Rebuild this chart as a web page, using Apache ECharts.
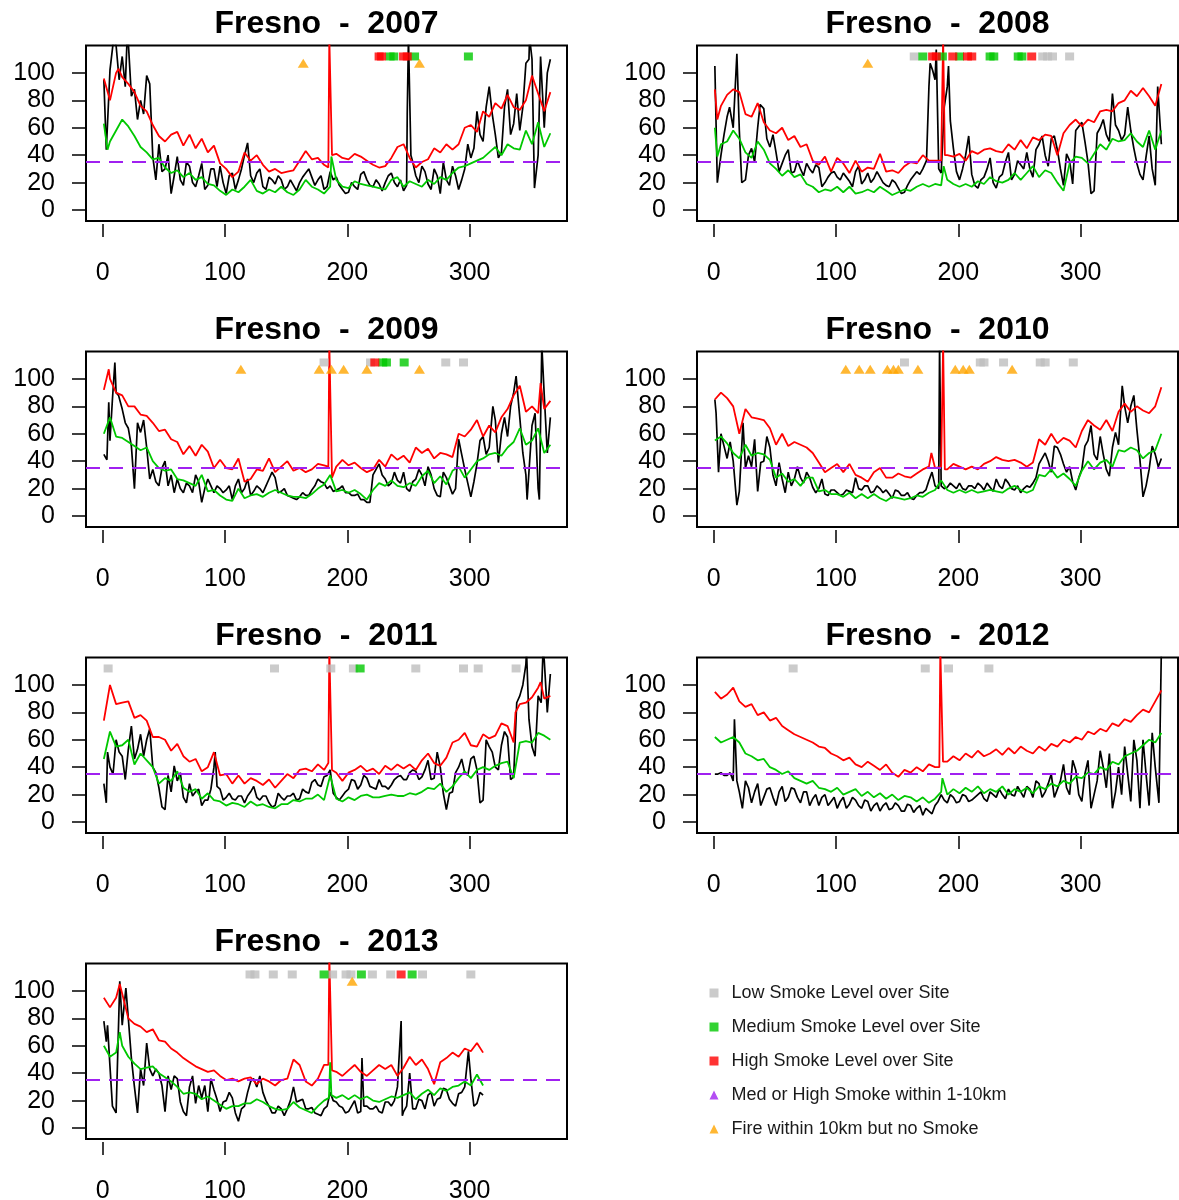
<!DOCTYPE html>
<html>
<head>
<meta charset="utf-8">
<script src="https://cdn.jsdelivr.net/npm/echarts@6/dist/echarts.min.js"></script>
<style>
  html, body { margin: 0; padding: 0; background: #fff; }
  #chart { width: 1179px; height: 1200px; }
</style>
</head>
<body>
<div id="chart"></div>
<script>
// day grid (every 5 days) and the in-between days used for the noisy black series
var days = [1,6,11,16,21,26,31,36,41,46,51,56,61,66,71,76,81,86,91,96,101,106,111,116,121,126,131,136,141,146,
  151,156,161,166,171,176,181,186,191,196,201,206,211,216,221,226,231,236,241,246,251,256,261,266,271,276,281,286,291,296,
  301,306,311,316,321,326,331,336,341,346,351,356,361,366];
var midDays = [3.5,8.5,13.5,18.5,23.5,28.5,33.5,38.5,43.5,48.5,53.5,58.5,63.5,68.5,73.5,78.5,83.5,88.5,93.5,98.5,
  103.5,108.5,113.5,118.5,123.5,128.5,133.5,138.5,143.5,148.5,153.5,158.5,163.5,168.5,173.5,178.5,183.5,188.5,193.5,198.5,
  203.5,208.5,213.5,218.5,223.5,228.5,233.5,238.5,243.5,248.5,253.5,258.5,263.5,268.5,273.5,278.5,283.5,288.5,293.5,298.5,
  303.5,308.5,313.5,318.5,323.5,328.5,333.5,338.5,343.5,348.5,353.5,358.5,363.5];
var xTicks = [0, 100, 200, 300];
var yTicks = [0, 20, 40, 60, 80, 100];
var threshold = 35;
var squareLevel = 112;
var triangleLevel = 107;

// ---- 2007 ----
var red2007 = [96,80,100,97,92,86,76,72,62,54, 50,55,57,47,55,45,52,42,47,34, 30,24,28,42,36,40,33,28,30,27,
  28,29,36,43,37,38,33,33,41,38, 37,41,39,36,33,31,32,38,46,48, 38,31,35,37,45,42,48,44,48,60,
  62,57,72,68,78,74,84,75,73,80, 98,85,72,86];
var black2007 = [95,102,120,112,122,88,80,98,39,48, 30,12,39,18,32,17,34,18,30,32, 12,27,22,40,25,27,17,24,19,22,
  17,18,20,27,24,22,15,28,24,15, 13,17,26,22,17,19,20,27,17,14, 60,25,32,19,30,12,22,32,15,30,
  38,72,50,90,55,42,88,63,58,107, 110,40,60,110];
var blackMid2007 = [null,null,95,90,83,66,70,92,22,28, 40,25,22,35,20,25,15,30,17,20, 25,15,30,49,20,30,15,22,25,15,
  22,14,24,30,18,25,17,22,18,12, 20,15,28,18,22,14,25,20,22,18, 35,20,28,15,25,35,18,25,22,48,
  45,55,75,70,38,75,55,85,75,110, null,null,100];
var green2007 = [63,50,58,66,61,54,46,42,37,38, 31,27,29,24,27,22,24,19,18,14, 11,15,13,17,22,14,12,15,13,17,
  13,11,15,22,17,15,12,17,22,17, 16,21,19,18,17,16,15,22,24,17, 21,19,17,22,19,24,22,27,31,32,
  34,36,38,42,46,40,48,45,44,58, 48,64,46,56];
var redExtra2007 = [[13,103],[184.5,31],[185.3,126],[186,126],[186.7,126],[187.5,40]];
var blackExtra2007 = [[3,44],[9,125],[20,125],[249,70],[250,126],[251,126],[252,40],[349,126],[353,16],[358,112]];
var greenExtra2007 = [[4,44],[187,39]];
var low2007 = [];
var med2007 = [235,238,255,299];
var high2007 = [226,228,246,249];
var fire2007 = [164,259];

// ---- 2008 ----
var red2008 = [88,76,84,88,86,70,68,78,64,58, 56,60,51,54,46,48,36,33,39,28, 38,34,27,36,28,31,30,41,28,29,
  27,32,35,34,40,36,36,36,40,39, 41,36,43,41,44,45,43,42,48,44, 51,45,53,51,55,54,40,56,62,66,
  61,66,64,72,73,72,78,80,87,83, 89,83,76,92];
var black2008 = [105,40,68,60,58,22,45,60,74,46, 42,34,44,28,30,34,27,31,20,27, 24,27,21,28,19,27,23,24,18,22,
  16,13,22,28,30,90,95,27,90,45, 22,40,26,16,24,38,16,26,42,26, 33,42,24,48,40,52,44,18,36,58,
  64,35,14,60,55,85,58,55,58,34, 22,54,18,48];
var blackMid2008 = [null,55,null,null,null,40,35,null,52,55, 28,40,27,36,25,30,33,17,24,28, 22,24,17,32,22,20,28,20,17,20,
  12,18,25,26,null,null,null,75,65,28, 30,54,18,22,30,20,24,35,22,36, 30,30,44,54,32,54,30,41,19,61,
  50,12,56,66,50,62,51,75,45,26, 39,30,null];
var green2008 = [60,48,50,58,52,42,38,50,44,34, 30,25,29,24,26,19,17,13,15,14, 17,13,17,12,13,15,13,17,14,11,
  13,15,14,17,19,17,19,18,22,19, 17,19,17,21,19,24,21,20,22,27, 22,27,32,24,29,27,20,14,34,39,
  38,34,41,48,44,52,50,51,56,50, 46,58,44,58];
var redExtra2008 = [[3,66],[187,36],[187.6,126],[188.4,126],[189,40]];
var blackExtra2008 = [[3,20],[13,75],[19,114],[23,20],[38,77],[174,36],[177,107],[179,102],[182,117],[184,30],[192,105],[363,90]];
var greenExtra2008 = [[3,39],[188,32]];
var low2008 = [164,269,273,277,291];
var med2008 = [171,187,201,226,229,249,252];
var high2008 = [179,182,195.5,207.5,211,260];
var fire2008 = [126];

// ---- 2009 ----
var red2009 = [92,100,90,88,80,80,74,73,68,62, 63,56,54,45,51,44,52,47,35,41, 35,34,42,25,27,34,33,42,32,36,
  40,33,35,32,34,38,37,30,36,41, 37,39,35,32,34,41,36,45,41,44, 39,50,46,49,42,46,45,43,60,58,
  63,70,58,66,61,72,78,88,95,76, 80,75,78,84];
var black2009 = [45,55,90,78,64,20,61,50,34,22, 40,30,27,17,22,30,10,27,17,20, 19,12,27,20,15,22,17,27,28,18,
  15,13,14,15,19,27,24,22,19,22, 17,15,12,10,30,38,27,24,26,32, 18,27,30,36,20,14,28,16,56,34,
  14,38,58,50,70,60,58,90,72,30, 66,20,88,72];
var blackMid2009 = [41,null,null,68,51,68,70,27,25,35, 22,17,20,24,17,25,20,22,22,17, 22,22,17,27,18,20,22,32,17,20,
  14,12,17,15,22,25,20,18,20,17, 15,16,12,10,34,30,22,32,24,20, 25,34,22,30,15,32,22,20,45,24,
  25,55,45,null,39,72,80,null,46,null, 75,null,46];
var green2009 = [60,72,58,57,54,51,48,50,40,35, 33,34,27,26,24,22,30,18,19,15, 12,11,20,13,15,16,14,17,19,17,
  15,14,14,13,16,20,23,30,18,19, 17,19,16,12,19,24,22,26,22,21, 24,22,29,33,24,29,23,33,36,28,
  34,40,42,45,46,44,50,54,64,52, 55,64,46,52];
var redExtra2009 = [[5,107],[184.5,36],[185.3,126],[186,126],[186.7,126],[187.5,28],[358,97]];
var blackExtra2009 = [[5,83],[8,85],[10,112],[13,88],[319,80],[338,102],[347,12],[357,12],[359,125]];
var greenExtra2009 = [];
var low2009 = [181,219,280.5,295];
var med2009 = [229,232,246.5];
var high2009 = [222.5];
var fire2009 = [113,177,187,197,216,259];

// ---- 2010 ----
var red2010 = [85,90,86,80,60,78,72,71,70,64, 52,60,51,54,52,50,46,39,32,35, 38,32,38,30,28,25,32,35,28,28,
  31,29,28,31,34,36,35,36,34,38, 36,34,36,34,38,40,43,41,40,41, 39,36,39,56,52,60,53,57,55,50,
  62,70,66,63,70,62,76,82,76,80, 77,75,80,94];
var black2010 = [85,60,42,40,18,35,36,18,40,50, 22,27,32,27,28,32,21,20,16,19, 17,16,18,28,19,22,18,20,19,13,
  18,15,13,15,17,26,22,20,21,22, 24,19,22,24,19,21,27,20,24,19, 17,22,24,38,46,32,50,38,36,19,
  34,55,45,58,34,50,52,80,80,63, 14,34,45,42];
var blackMid2010 = [null,51,54,null,null,44,56,39,58,30, 39,17,22,36,24,28,17,27,15,19, 15,19,17,20,22,17,22,17,16,19,
  15,17,12,17,19,32,null,20,24,20, 20,22,20,22,24,18,22,27,20,22, 20,21,28,42,40,51,45,32,25,28,
  51,66,41,45,29,61,null,68,88,41, 22,51,36];
var green2010 = [55,58,53,46,42,52,44,46,45,41, 28,31,25,27,22,28,28,18,19,16, 16,14,17,13,16,13,16,13,11,14,
  13,12,13,15,14,17,19,26,19,17, 19,17,19,17,18,19,18,17,20,22, 19,17,19,30,29,34,28,31,27,22,
  33,40,34,39,41,36,48,47,50,48, 42,46,48,60];
var redExtra2010 = [[178,46],[187,36],[187.6,126],[188.4,126],[189,34]];
var blackExtra2010 = [[2,75],[4,32],[19,8],[24,68],[184,20],[184.7,126],[185.3,126],[186,22],[334,95]];
var greenExtra2010 = [];
var low2010 = [156,218,221,237,267,271,294];
var med2010 = [];
var high2010 = [];
var fire2010 = [108,119,128,142,147,151,167,197.5,204,209,244];

// ---- 2011 ----
var red2011 = [74,100,86,87,88,76,78,74,62,62, 60,52,57,48,44,46,37,40,46,34, 35,28,34,28,32,30,27,31,25,30,
  35,32,38,39,37,42,38,43,36,30, 36,38,41,37,39,35,41,38,42,39, 42,38,45,50,43,41,47,58,60,65,
  56,55,64,61,63,72,70,60,86,87, 91,98,90,92];
var black2011 = [28,40,60,48,53,46,64,60,40,25, 9,22,30,18,28,22,12,16,40,24, 18,17,19,14,22,18,19,14,12,18,
  19,21,17,22,29,27,33,38,18,19, 24,30,27,32,25,31,26,27,33,31, 36,37,33,45,32,40,9,22,40,36,
  46,38,16,55,40,56,62,33,92,115, 55,92,118,108];
var blackMid2011 = [null,35,51,31,70,53,48,68,36,11, 34,41,36,14,19,24,16,24,26,16, 21,16,19,19,26,16,19,11,21,16,
  19,16,24,21,31,26,34,21,16,22, 31,24,34,26,24,26,24,31,34,31, 38,31,38,31,51,21,21,36,46,34,
  48,14,60,51,38,66,31,87,100,75, 48,87,80];
var green2011 = [46,66,55,56,60,42,50,45,40,28, 32,30,37,25,22,24,17,21,16,15, 12,14,13,11,15,12,13,11,10,13,
  13,16,15,17,17,20,16,34,17,15, 18,16,19,20,18,18,19,20,19,19, 21,20,22,25,24,28,22,26,32,37,
  32,38,40,38,41,43,44,32,58,59, 58,65,63,60];
var redExtra2011 = [[91,51],[184.5,43],[185.3,126],[186,126],[186.7,126],[187.5,38],[336,58],[337.5,80],[358,102]];
var blackExtra2011 = [[3,14],[4,51],[92,51],[346.5,125],[360,125]];
var greenExtra2011 = [];
var low2011 = [4.5,140.5,186.5,205,256,295,307,338];
var med2011 = [210.5];
var high2011 = [];
var fire2011 = [];

// ---- 2012 ----
var red2012 = [95,90,93,98,88,84,86,78,80,74, 76,70,67,64,62,60,58,55,54,50, 48,45,47,42,40,44,41,38,42,36,
  33,38,36,40,37,42,40,42,44,48, 45,50,47,52,48,50,53,49,54,50, 55,52,50,55,52,57,55,60,58,62,
  60,66,64,68,66,72,70,75,73,78, 82,80,88,96];
var black2012 = [35,36,34,30,22,30,14,28,18,25, 12,26,18,24,14,22,17,12,20,15, 10,18,13,16,10,15,12,8,14,10,
  12,8,12,10,5,8,12,20,14,18, 15,19,16,20,17,22,18,20,24,19, 22,26,18,28,22,35,24,42,20,38,
  15,45,20,52,25,10,40,55,15,45, 60,12,40,126];
var blackMid2012 = [35,34,36,null,10,25,22,12,24,18, 22,15,25,18,22,12,20,18,12,18, 15,10,18,12,16,8,14,12,9,14,
  8,13,7,12,10,6,15,16,20,14, 20,15,18,22,15,20,24,17,20,26, 18,24,30,18,28,18,30,25,45,20,
  35,10,30,40,50,22,20,35,60,10, 35,65,null];
var green2012 = [62,58,60,55,58,50,48,45,46,40, 38,35,37,32,30,28,30,25,24,22, 25,20,22,24,19,22,18,21,17,20,
  16,19,18,15,18,14,17,22,20,24, 21,25,22,26,21,24,22,26,20,24, 22,25,21,26,24,28,26,30,28,33,
  32,36,35,40,38,44,42,48,50,52, 56,60,58,65];
var redExtra2012 = [[184.5,40],[185.3,126],[186,126],[186.7,126],[187.5,44]];
var blackExtra2012 = [[17,75],[19,30],[364,14]];
var greenExtra2012 = [[16,62],[187,32]];
var low2012 = [65,173,192,225];
var med2012 = [];
var high2012 = [];
var fire2012 = [];

// ---- 2013 (ends near day 311) ----
var red2013 = [95,88,95,98,80,76,74,70,72,64, 63,58,55,51,48,45,43,41,42,38, 35,36,34,36,37,32,36,34,31,35,
  36,50,46,34,31,36,46,45,41,38, 42,46,41,38,42,46,43,46,38,44, 52,46,50,43,32,48,51,55,52,58,
  56,62,55];
var black2013 = [78,45,11,75,80,30,43,62,38,40, 12,28,36,12,30,18,22,12,28,12, 20,22,5,16,34,30,26,16,11,14,
  14,30,20,14,15,10,14,26,19,15, 12,20,12,16,14,12,19,16,30,12, 40,14,20,24,16,22,28,18,25,30,
  36,18,24];
var blackMid2013 = [null,null,null,null,51,11,31,43,43,31, 38,38,19,9,38,31,31,36,21,19, 26,11,14,26,36,38,20,11,16,9,
  20,19,21,14,11,9,16,20,16,11, 16,11,16,14,16,11,19,20,null,16, 14,21,14,26,21,29,21,16,26,null,
  16,26];
var green2013 = [60,52,55,60,52,47,43,44,45,40, 37,34,30,25,26,25,21,23,20,17, 14,16,16,18,18,21,19,16,14,13,
  14,19,15,13,11,16,20,22,22,24, 21,24,21,23,20,19,21,23,22,24, 26,21,25,28,24,29,27,30,31,34,
  31,39,31];
var redExtra2013 = [[14,105],[184.5,46],[185.3,126],[186,126],[186.7,126],[187.5,42]];
var blackExtra2013 = [[3,63],[4,75],[8,16],[14,107],[19,102],[212,51],[244,78],[245,9],[299,56]];
var greenExtra2013 = [[14,70],[185,22],[186,48],[187,24]];
var low2013 = [120.5,124.5,139.5,155,188,199,203,220.5,235.5,261.5,301];
var med2013 = [181,211.5,253];
var high2013 = [244];
var fire2013 = [204];

var panels = [
  {year: 2007, red: red2007, black: black2007, blackMid: blackMid2007, green: green2007, redX: redExtra2007, blackX: blackExtra2007, greenX: greenExtra2007, low: low2007, med: med2007, high: high2007, fire: fire2007},
  {year: 2008, red: red2008, black: black2008, blackMid: blackMid2008, green: green2008, redX: redExtra2008, blackX: blackExtra2008, greenX: greenExtra2008, low: low2008, med: med2008, high: high2008, fire: fire2008},
  {year: 2009, red: red2009, black: black2009, blackMid: blackMid2009, green: green2009, redX: redExtra2009, blackX: blackExtra2009, greenX: greenExtra2009, low: low2009, med: med2009, high: high2009, fire: fire2009},
  {year: 2010, red: red2010, black: black2010, blackMid: blackMid2010, green: green2010, redX: redExtra2010, blackX: blackExtra2010, greenX: greenExtra2010, low: low2010, med: med2010, high: high2010, fire: fire2010},
  {year: 2011, red: red2011, black: black2011, blackMid: blackMid2011, green: green2011, redX: redExtra2011, blackX: blackExtra2011, greenX: greenExtra2011, low: low2011, med: med2011, high: high2011, fire: fire2011},
  {year: 2012, red: red2012, black: black2012, blackMid: blackMid2012, green: green2012, redX: redExtra2012, blackX: blackExtra2012, greenX: greenExtra2012, low: low2012, med: med2012, high: high2012, fire: fire2012},
  {year: 2013, red: red2013, black: black2013, blackMid: blackMid2013, green: green2013, redX: redExtra2013, blackX: blackExtra2013, greenX: greenExtra2013, low: low2013, med: med2013, high: high2013, fire: fire2013}
];

var LOW = 'Low Smoke Level over Site';
var MED = 'Medium Smoke Level over Site';
var HIGH = 'High Smoke Level over Site';
var NEAR = 'Med or High Smoke within 1-10km';
var FIRE = 'Fire within 10km but no Smoke';
var FONT = '"Liberation Sans", Arial, Helvetica, sans-serif';

// merge grid values, in-between values and extra (spike) points into one sorted [day, value] list
function build(vals, extra, mids) {
  var m = {};
  vals.forEach(function (v, k) { if (v != null) m[days[k]] = v; });
  (mids || []).forEach(function (v, k) { if (v != null) m[midDays[k]] = v; });
  (extra || []).forEach(function (e) { m[e[0]] = e[1]; });
  return Object.keys(m).map(Number).sort(function (a, b) { return a - b; })
    .map(function (d) { return [d, m[d]]; });
}
function marks(list, level) {
  return list.map(function (d) { return [d, level]; });
}

var grids = [], xAxes = [], yAxes = [], titles = [], series = [];

panels.forEach(function (p, i) {
  var col = i % 2, row = Math.floor(i / 2);
  var left = col === 0 ? 86 : 697;
  var top = 45.5 + row * 306;
  grids.push({left: left, top: top, width: 481, height: 175.5, show: true, containLabel: false,
    outerBoundsMode: 'none',
    borderColor: '#000', borderWidth: 2, backgroundColor: 'transparent'});
  titles.push({text: 'Fresno  -  ' + p.year, left: left + 240.5, top: top - 37, textAlign: 'center', padding: 0,
    textStyle: {fontSize: 32, fontWeight: 'bold', color: '#000', fontFamily: FONT}});
  xAxes.push({gridIndex: i, type: 'value', min: -13.6, max: 379.6, position: 'bottom', offset: 3,
    axisLine: {show: false, onZero: false}, splitLine: {show: false},
    axisTick: {show: true, length: 13, lineStyle: {color: '#000', width: 1.5}, customValues: xTicks},
    axisLabel: {fontSize: 25, color: '#000', fontFamily: FONT, margin: 37, customValues: xTicks}});
  yAxes.push({gridIndex: i, type: 'value', min: -8, max: 120, position: 'left',
    axisLine: {show: false, onZero: false}, splitLine: {show: false},
    axisTick: {show: true, length: 14, lineStyle: {color: '#000', width: 1.5}, customValues: yTicks},
    axisLabel: {fontSize: 25, color: '#000', fontFamily: FONT, margin: 31, customValues: yTicks}});

  series.push({type: 'line', xAxisIndex: i, yAxisIndex: i, data: build(p.black, p.blackX, p.blackMid),
    showSymbol: false, silent: true, z: 2, lineStyle: {color: '#000', width: 1.7}, itemStyle: {color: '#000'}});
  series.push({type: 'line', xAxisIndex: i, yAxisIndex: i, data: build(p.red, p.redX),
    showSymbol: false, silent: true, z: 3, lineStyle: {color: '#FF0000', width: 1.8}, itemStyle: {color: '#FF0000'}});
  series.push({type: 'line', xAxisIndex: i, yAxisIndex: i, data: build(p.green, p.greenX),
    showSymbol: false, silent: true, z: 4, lineStyle: {color: '#00C800', width: 1.8}, itemStyle: {color: '#00C800'},
    markLine: {silent: true, symbol: 'none', label: {show: false}, animation: false,
      lineStyle: {color: '#A020F0', type: [14, 9], width: 2}, data: [{yAxis: threshold}]}});

  series.push({type: 'scatter', name: LOW, xAxisIndex: i, yAxisIndex: i, data: marks(p.low, squareLevel),
    symbol: 'rect', symbolSize: [9, 8], itemStyle: {color: '#BEBEBE'}, z: 5, silent: true});
  series.push({type: 'scatter', name: MED, xAxisIndex: i, yAxisIndex: i, data: marks(p.med, squareLevel),
    symbol: 'rect', symbolSize: [9, 8], itemStyle: {color: '#00C800'}, z: 6, silent: true});
  series.push({type: 'scatter', name: HIGH, xAxisIndex: i, yAxisIndex: i, data: marks(p.high, squareLevel),
    symbol: 'rect', symbolSize: [9, 8], itemStyle: {color: '#FF0000'}, z: 7, silent: true});
  series.push({type: 'scatter', name: FIRE, xAxisIndex: i, yAxisIndex: i, data: marks(p.fire, triangleLevel),
    symbol: 'triangle', symbolSize: [11, 9], itemStyle: {color: '#FFA500'}, z: 8, silent: true});
});

// no point of this kind in these years, kept for the legend
series.push({type: 'scatter', name: NEAR, xAxisIndex: 0, yAxisIndex: 0, data: [],
  symbol: 'triangle', itemStyle: {color: '#A020F0'}});

var option = {
  backgroundColor: '#fff',
  animation: false,
  title: titles,
  grid: grids,
  xAxis: xAxes,
  yAxis: yAxes,
  legend: {
    orient: 'vertical', left: 709.5, top: 983, padding: 0, itemWidth: 9, itemHeight: 9, itemGap: 14,
    selectedMode: false,
    textStyle: {fontSize: 18, color: '#1a1a1a', lineHeight: 20, fontFamily: FONT, padding: [0, 0, 0, 8]},
    data: [
      {name: LOW, icon: 'rect'},
      {name: MED, icon: 'rect'},
      {name: HIGH, icon: 'rect'},
      {name: NEAR, icon: 'triangle'},
      {name: FIRE, icon: 'triangle'}
    ]
  },
  series: series
};

var chart = echarts.init(document.getElementById('chart'));
chart.setOption(option);
</script>
</body>
</html>
